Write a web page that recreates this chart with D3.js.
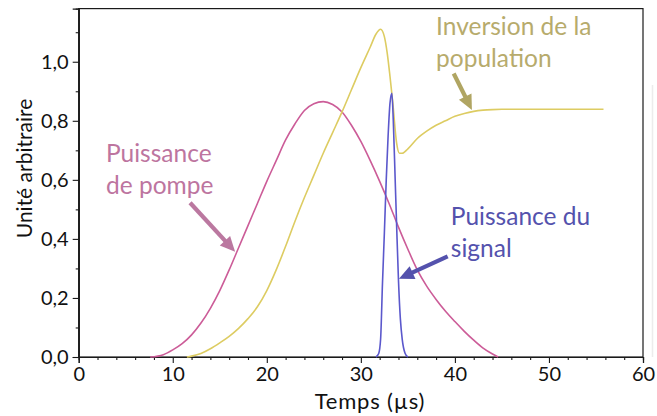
<!DOCTYPE html>
<html>
<head>
<meta charset="utf-8">
<script src="https://cdn.jsdelivr.net/npm/d3@7"></script>
<style>
  html, body { margin: 0; padding: 0; background: #fff; }
  svg { display: block; font-family: Lato, "Open Sans", sans-serif; }
</style>
</head>
<body>
<svg id="chart" width="657" height="416"></svg>
<script>
// ---- data ----
const pumpTime  = [7.6, 9, 10, 11, 12, 13, 14, 15, 16, 17, 18, 19, 20, 21, 22, 23, 24, 25, 26, 27, 28, 29, 30, 31, 32, 33, 34, 35, 36, 37, 38, 39, 40, 41, 42, 43, 44, 44.6];
const pumpValue = [0, 0.008, 0.024, 0.045, 0.075, 0.115, 0.165, 0.225, 0.295, 0.37, 0.445, 0.52, 0.595, 0.665, 0.735, 0.79, 0.835, 0.858, 0.865, 0.855, 0.83, 0.785, 0.73, 0.665, 0.595, 0.52, 0.44, 0.365, 0.295, 0.24, 0.195, 0.155, 0.12, 0.087, 0.057, 0.03, 0.01, 0];

const invTime  = [11.5, 12, 13, 14, 15, 16, 17, 18, 19, 20, 21, 22, 23, 24, 25, 26, 27, 28, 29, 30, 31, 31.6, 32.1, 32.5, 32.8, 33.1, 33.4, 33.8, 34.1, 34.4, 35, 36, 37, 38, 39, 40, 41, 42, 43, 44, 45, 47, 50, 53, 55.8];
const invValue = [0, 0.003, 0.012, 0.028, 0.048, 0.07, 0.097, 0.13, 0.17, 0.225, 0.295, 0.375, 0.46, 0.54, 0.615, 0.69, 0.76, 0.83, 0.905, 0.98, 1.05, 1.093, 1.11, 1.085, 1.03, 0.95, 0.86, 0.725, 0.69, 0.69, 0.705, 0.74, 0.765, 0.785, 0.80, 0.815, 0.825, 0.832, 0.836, 0.838, 0.839, 0.839, 0.839, 0.839, 0.839];

const sigTime  = [31.6, 31.9, 32.1, 32.3, 32.5, 32.7, 32.9, 33.1, 33.3, 33.45, 33.65, 33.8, 34.0, 34.2, 34.4, 34.7, 35.0];
const sigValue = [0, 0.012, 0.06, 0.25, 0.42, 0.6, 0.75, 0.86, 0.893, 0.8, 0.6, 0.45, 0.26, 0.13, 0.06, 0.013, 0];

const xMajorTicks = [0, 10, 20, 30, 40, 50, 60];
const yMajorTicks = [0, 0.2, 0.4, 0.6, 0.8, 1.0];
const xTitle = "Temps (µs)";
const yTitle = "Unité arbitraire";

// annotations (data coordinates)
const labelPump   = {lines: ["Puissance", "de pompe"], x: 2.9, y: 0.66};
const labelInv    = {lines: ["Inversion de la", "population"], x: 38.0, y: 1.09};
const labelSig    = {lines: ["Puissance du", "signal"], x: 39.57, y: 0.447};
const arrowPump = {x1: 11.84, y1: 0.5225, x2: 16.63, y2: 0.3566};
const arrowInv  = {x1: 39.87, y1: 0.960, x2: 41.81, y2: 0.8364};
const arrowSig  = {x1: 39.23, y1: 0.341, x2: 34.05, y2: 0.2648};

// ---- layout ----
const W = 657, H = 416;
const margin = {left: 78.7, right: 14, top: 8.6, bottom: 59};
const svg = d3.select("#chart");

const x = d3.scaleLinear().domain([0, 60]).range([margin.left, W - margin.right]);
const y = d3.scaleLinear().domain([0, 1.18]).range([H - margin.bottom, margin.top]);

const fmt = v => d3.format(".1f")(v).replace(".", ",");

// faint separator line at the far right
svg.append("line")
  .attr("x1", 652.5).attr("x2", 652.5).attr("y1", 85).attr("y2", 357)
  .attr("stroke", "#ececec").attr("stroke-width", 1.5);

// frame
svg.append("rect")
  .attr("x", x(0)).attr("y", y(1.18))
  .attr("width", x(60) - x(0)).attr("height", y(0) - y(1.18))
  .attr("fill", "none").attr("stroke", "#1a1a1a").attr("stroke-width", 1.2);

// axes
const xAxis = svg.append("g").attr("transform", `translate(0,${y(0)})`)
  .call(d3.axisBottom(x).tickValues(xMajorTicks).tickSize(6).tickPadding(4).tickFormat(d3.format("d")));
const xMinor = svg.append("g").attr("transform", `translate(0,${y(0)})`)
  .call(d3.axisBottom(x).tickValues(d3.range(0, 61, 2).filter(v => v % 10 !== 0)).tickSize(3).tickFormat(""));
const yAxis = svg.append("g").attr("transform", `translate(${x(0)},0)`)
  .call(d3.axisLeft(y).tickValues(yMajorTicks).tickSize(6).tickPadding(4).tickFormat(fmt));
const yMinor = svg.append("g").attr("transform", `translate(${x(0)},0)`)
  .call(d3.axisLeft(y).tickValues([0.1, 0.3, 0.5, 0.7, 0.9, 1.1]).tickSize(3).tickFormat(""));

[xAxis, xMinor, yAxis, yMinor].forEach(g => {
  g.select(".domain").attr("stroke", "#1a1a1a").attr("stroke-width", 1.2);
  g.selectAll(".tick line").attr("stroke", "#1a1a1a").attr("stroke-width", 1.1);
  g.selectAll("text").attr("fill", "#111").style("font-family", "Lato, sans-serif").style("font-size", "20px");
});

// axis titles
svg.append("text")
  .attr("x", 370).attr("y", 409)
  .attr("text-anchor", "middle")
  .attr("fill", "#111").style("font-size", "22px").style("letter-spacing", "0.8px")
  .text(xTitle);
svg.append("text")
  .attr("transform", `translate(32,168.5) rotate(-90)`)
  .attr("text-anchor", "middle")
  .attr("fill", "#111").style("font-size", "21px")
  .text(yTitle);

// curves
const line = d3.line().x(d => x(d[0])).y(d => y(d[1])).curve(d3.curveMonotoneX);
const series = [
  {t: pumpTime, v: pumpValue, color: "#cc5c98"},
  {t: invTime, v: invValue, color: "#ddcc62"},
  {t: sigTime, v: sigValue, color: "#5b58cc"}
];
series.forEach(s => {
  svg.append("path")
    .datum(s.t.map((t, i) => [t, s.v[i]]))
    .attr("d", line)
    .attr("fill", "none")
    .attr("stroke", s.color)
    .attr("stroke-width", 1.6)
    .attr("stroke-linejoin", "round");
});

// annotations
function label(l, color) {
  const t = svg.append("text").attr("fill", color).style("font-size", "24.5px");
  l.lines.forEach((s, i) => {
    t.append("tspan").attr("x", x(l.x)).attr("y", y(l.y) + i * 31.5).text(s);
  });
}
function arrow(a, color) {
  const x1 = x(a.x1), y1 = y(a.y1), x2 = x(a.x2), y2 = y(a.y2);
  const dx = x2 - x1, dy = y2 - y1, len = Math.hypot(dx, dy);
  const ux = dx / len, uy = dy / len;
  const headLen = 15, headW = 7;
  const bx = x2 - ux * headLen, by = y2 - uy * headLen;
  svg.append("line")
    .attr("x1", x1).attr("y1", y1).attr("x2", bx + ux * 1).attr("y2", by + uy * 1)
    .attr("stroke", color).attr("stroke-width", 4.2);
  svg.append("polygon")
    .attr("points", [[x2, y2], [bx - uy * headW, by + ux * headW], [bx + uy * headW, by - ux * headW]].map(p => p.join(",")).join(" "))
    .attr("fill", color);
}
label(labelPump, "#bd759f");
label(labelInv, "#b7ab6c");
label(labelSig, "#5452ad");
arrow(arrowPump, "#bb78a0");
arrow(arrowInv, "#b0a562");
arrow(arrowSig, "#5452ad");
</script>
</body>
</html>
